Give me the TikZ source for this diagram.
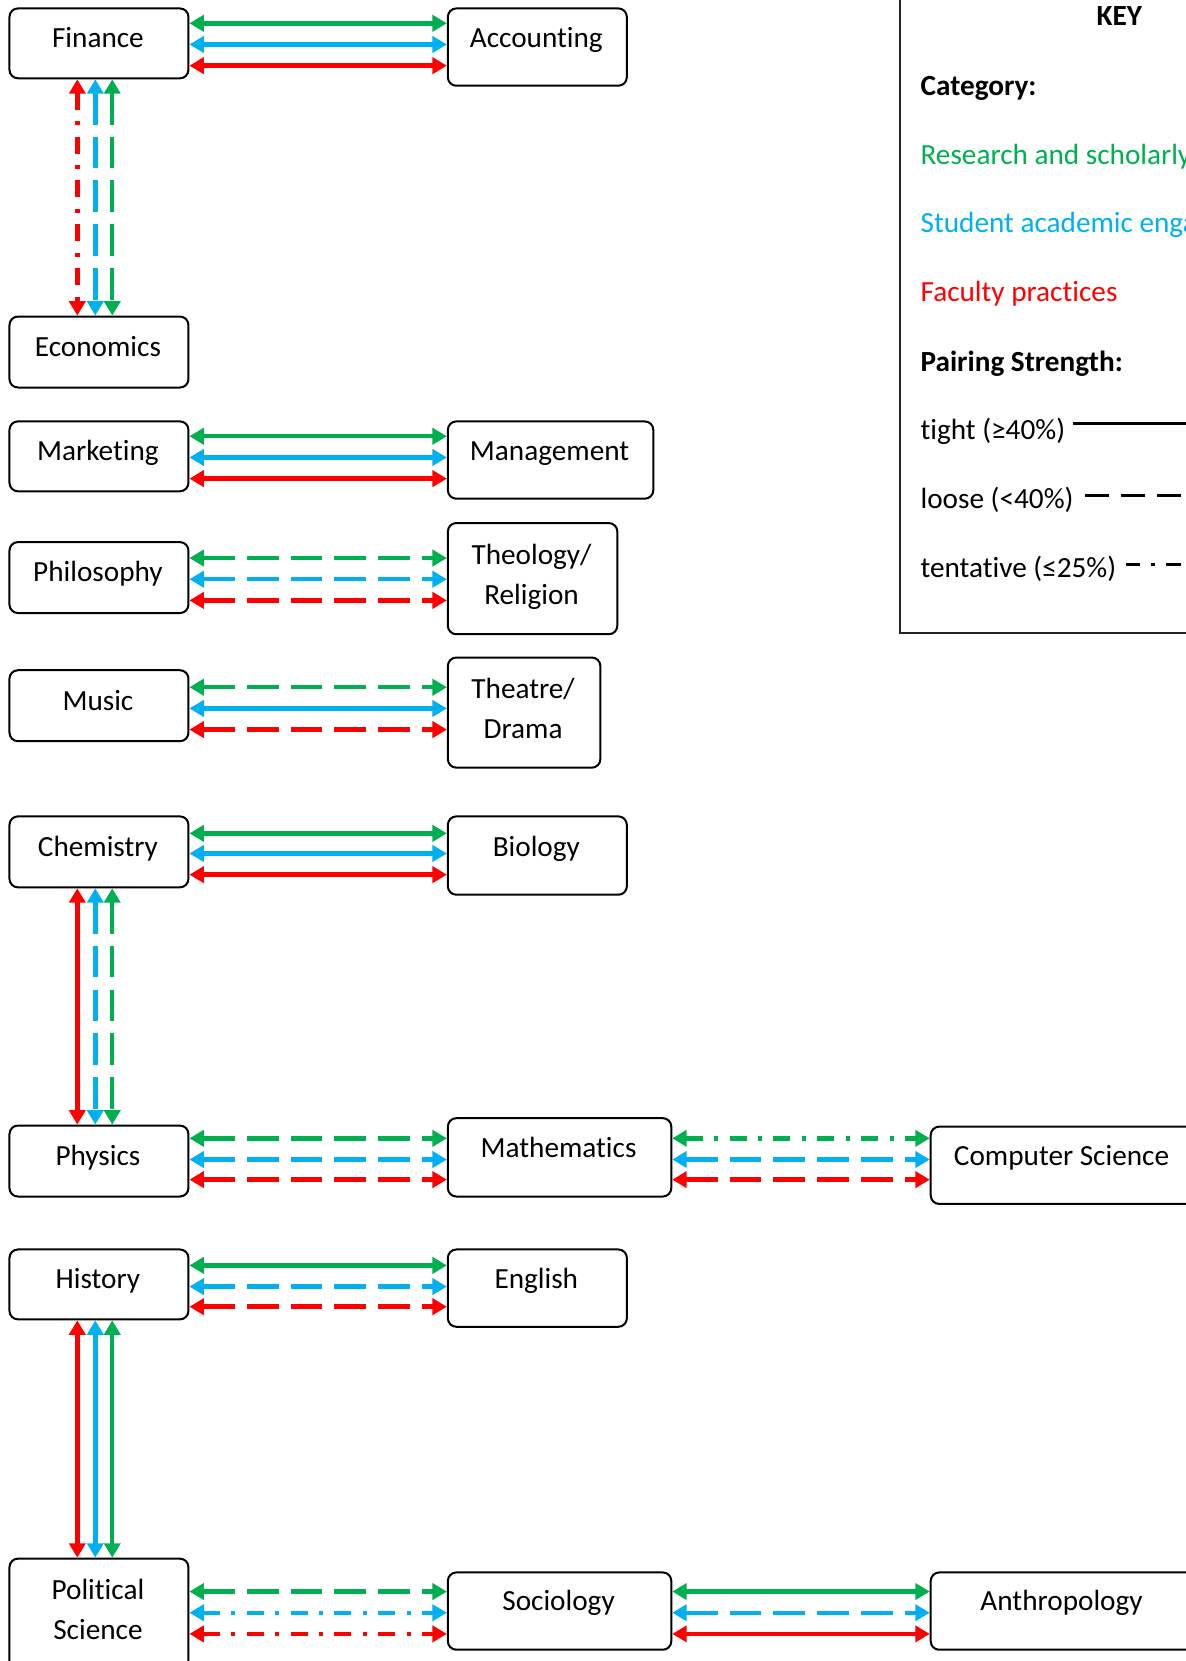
\documentclass[tikz,border=0pt]{standalone}
\usepackage{fontspec}
\setmainfont{Carlito}[Ligatures={NoCommon},RawFeature={-liga;-clig;-dlig;-calt}]
\usetikzlibrary{arrows.meta}
\definecolor{cgreen}{RGB}{0,176,80}
\definecolor{cblue}{RGB}{0,176,240}
\definecolor{cred}{RGB}{255,0,0}
\newcommand\dbox[5]{\node[box,anchor=north west,minimum width={(#4-#2)*0.5pt},minimum height={(#5-#3)*0.5pt}] (#1) at (#2,#3) {};}
\begin{document}
\begin{tikzpicture}[x=0.5pt,y=-0.5pt,
  box/.style={draw=black, line width=0.95pt, rounded corners=4pt, inner sep=0pt, fill=white},
  lbl/.style={inner sep=0pt, font=\fontsize{13.8}{19}\selectfont, align=center},
  klbl/.style={inner sep=0pt, font=\fontsize{13.8}{19}\selectfont, anchor=base west},
  con/.style={line width=2.1pt, {Triangle[length=6.8pt,width=7.6pt]}-{Triangle[length=6.8pt,width=7.6pt]}},
  tightl/.style={con},
  loosel/.style={con, dash pattern=on 15pt off 5.7pt},
  tentl/.style={con, dash pattern=on 8pt off 5.4pt on 1.9pt off 5.4pt},
  keyframe/.style={draw=black!85, line width=0.9pt, inner sep=0pt},
  keyline/.style={draw=black, line width=1.7pt},
]
\useasboundingbox (0,0) rectangle (1120,1568.6);
\clip (0,0) rectangle (1120,1568.6);

% boxes
\dbox{fin}{8}{7}{177}{73}
\dbox{acc}{422}{7}{591}{80}
\dbox{eco}{8}{298}{177}{365}
\dbox{mkt}{8}{397}{177}{463}
\dbox{mgt}{422}{397}{616}{470}
\dbox{phi}{8}{511}{177}{578}
\dbox{the}{422}{493}{582}{598}
\dbox{mus}{8}{632}{177}{699}
\dbox{thd}{422}{620}{566}{724}
\dbox{chem}{8}{770}{177}{837}
\dbox{bio}{422}{770}{591}{844}
\dbox{phy}{8}{1062}{177}{1129}
\dbox{math}{422}{1055}{633}{1129}
\dbox{cs}{878}{1063}{1127}{1136}
\dbox{his}{8}{1179}{177}{1245}
\dbox{eng}{422}{1179}{591}{1252}
\dbox{pol}{8}{1471}{177}{1590}
\dbox{soc}{422}{1484}{633}{1557}
\dbox{ant}{878}{1484}{1127}{1557}

% labels
\node[lbl,anchor=base] (fin-t) at (92.5,45) {Finance};
\node[lbl,anchor=base] (acc-t) at (506.5,45) {Accounting};
\node[lbl,anchor=base] (eco-t) at (92.5,337) {Economics};
\node[lbl,anchor=base] (mkt-t) at (92.5,435) {Marketing};
\node[lbl,anchor=base] (mgt-t) at (519,435) {Management};
\node[lbl,anchor=base] (phi-t) at (92.5,549) {Philosophy};
\node[lbl] (the-t) at (502,544.7) {Theology/\\Religion};
\node[lbl,anchor=base] (mus-t) at (92.5,671) {Music};
\node[lbl] (thd-t) at (494,669) {Theatre/\\Drama};
\node[lbl,anchor=base] (chem-t) at (92.5,809) {Chemistry};
\node[lbl,anchor=base] (bio-t) at (506.5,809) {Biology};
\node[lbl,anchor=base] (phy-t) at (92.5,1101) {Physics};
\node[lbl,anchor=base] (math-t) at (527.5,1093) {Mathematics};
\node[lbl,anchor=base] (cs-t) at (1002.5,1101) {Computer Science};
\node[lbl,anchor=base] (his-t) at (92.5,1217) {History};
\node[lbl,anchor=base] (eng-t) at (506.5,1217) {English};
\node[lbl] (pol-t) at (92.5,1520) {Political\\Science};
\node[lbl,anchor=base] (soc-t) at (527.5,1521) {Sociology};
\node[lbl,anchor=base] (ant-t) at (1002.5,1521) {Anthropology};

% key
\node[keyframe,draw,anchor=north west,minimum width={(1265-849)*0.5pt},minimum height={(597+10)*0.5pt}] (key) at (849,-10) {};
\node[lbl,anchor=base,font=\fontsize{13.8}{19}\selectfont\bfseries] (key-t) at (1057,24) {KEY};
\node[klbl,font=\fontsize{13.8}{19}\selectfont\bfseries] (cat-t) at (869,90.5) {Category:};
\node[klbl,text=cgreen] (res-t) at (869,155.5) {Research and scholarly activities};
\node[klbl,text=cblue] (stu-t) at (869,219.5) {Student academic engagement};
\node[klbl,text=cred] (fac-t) at (869,284.5) {Faculty practices};
\node[klbl,font=\fontsize{13.8}{19}\selectfont\bfseries] (pair-t) at (869,350.5) {Pairing Strength:};
\node[klbl] (tight-t) at (869,415.5) {tight (≥40\%)};
\node[klbl] (loose-t) at (869,480.5) {loose (<40\%)};
\node[klbl] (tent-t) at (869,545.5) {tentative (≤25\%)};
\coordinate (k1a) at (1013,400); \coordinate (k1b) at (1200,400);
\coordinate (k2a) at (1025,468); \coordinate (k2b) at (1200,468);
\coordinate (k3a) at (1063,533); \coordinate (k3b) at (1200,533);
\draw[keyline] (k1a) -- (k1b);
\draw[keyline, dash pattern=on 11pt off 6pt] (k2a) -- (k2b);
\draw[keyline, dash pattern=on 7pt off 5pt on 2pt off 5pt] (k3a) -- (k3b);

% Finance - Accounting
\draw[tightl,cgreen] (fin.east |- 0,22) -- (acc.west |- 0,22);
\draw[tightl,cblue] (fin.east |- 0,42) -- (acc.west |- 0,42);
\draw[tightl,cred] (fin.east |- 0,62) -- (acc.west |- 0,62);
% Finance - Economics
\draw[tentl,cred] (fin.south -| 73,0) -- (eco.north -| 73,0);
\draw[loosel,cblue] (fin.south -| 90,0) -- (eco.north -| 90,0);
\draw[loosel,cgreen] (fin.south -| 106,0) -- (eco.north -| 106,0);
% Marketing - Management
\draw[tightl,cgreen] (mkt.east |- 0,412) -- (mgt.west |- 0,412);
\draw[tightl,cblue] (mkt.east |- 0,432) -- (mgt.west |- 0,432);
\draw[tightl,cred] (mkt.east |- 0,452) -- (mgt.west |- 0,452);
% Philosophy - Theology
\draw[loosel,cgreen] (phi.east |- 0,527) -- (the.west |- 0,527);
\draw[loosel,cblue] (phi.east |- 0,547) -- (the.west |- 0,547);
\draw[loosel,cred] (phi.east |- 0,567) -- (the.west |- 0,567);
% Music - Theatre
\draw[loosel,cgreen] (mus.east |- 0,649) -- (thd.west |- 0,649);
\draw[tightl,cblue] (mus.east |- 0,669) -- (thd.west |- 0,669);
\draw[loosel,cred] (mus.east |- 0,689) -- (thd.west |- 0,689);
% Chemistry - Biology
\draw[tightl,cgreen] (chem.east |- 0,787) -- (bio.west |- 0,787);
\draw[tightl,cblue] (chem.east |- 0,806) -- (bio.west |- 0,806);
\draw[tightl,cred] (chem.east |- 0,826) -- (bio.west |- 0,826);
% Chemistry - Physics
\draw[tightl,cred] (chem.south -| 73,0) -- (phy.north -| 73,0);
\draw[loosel,cblue] (chem.south -| 90,0) -- (phy.north -| 90,0);
\draw[loosel,cgreen] (chem.south -| 106,0) -- (phy.north -| 106,0);
% Physics - Mathematics
\draw[loosel,cgreen] (phy.east |- 0,1075) -- (math.west |- 0,1075);
\draw[loosel,cblue] (phy.east |- 0,1095) -- (math.west |- 0,1095);
\draw[loosel,cred] (phy.east |- 0,1114) -- (math.west |- 0,1114);
% Mathematics - Computer Science
\draw[tentl,cgreen] (math.east |- 0,1075) -- (cs.west |- 0,1075);
\draw[loosel,cblue] (math.east |- 0,1095) -- (cs.west |- 0,1095);
\draw[loosel,cred] (math.east |- 0,1114) -- (cs.west |- 0,1114);
% History - English
\draw[tightl,cgreen] (his.east |- 0,1195) -- (eng.west |- 0,1195);
\draw[loosel,cblue] (his.east |- 0,1215) -- (eng.west |- 0,1215);
\draw[loosel,cred] (his.east |- 0,1234) -- (eng.west |- 0,1234);
% History - Political Science
\draw[tightl,cred] (his.south -| 73,0) -- (pol.north -| 73,0);
\draw[tightl,cblue] (his.south -| 90,0) -- (pol.north -| 90,0);
\draw[tightl,cgreen] (his.south -| 106,0) -- (pol.north -| 106,0);
% Political Science - Sociology
\draw[loosel,cgreen] (pol.east |- 0,1503) -- (soc.west |- 0,1503);
\draw[tentl,cblue] (pol.east |- 0,1523) -- (soc.west |- 0,1523);
\draw[tentl,cred] (pol.east |- 0,1543) -- (soc.west |- 0,1543);
% Sociology - Anthropology
\draw[tightl,cgreen] (soc.east |- 0,1503) -- (ant.west |- 0,1503);
\draw[loosel,cblue] (soc.east |- 0,1523) -- (ant.west |- 0,1523);
\draw[tightl,cred] (soc.east |- 0,1543) -- (ant.west |- 0,1543);
\end{tikzpicture}
\end{document}
